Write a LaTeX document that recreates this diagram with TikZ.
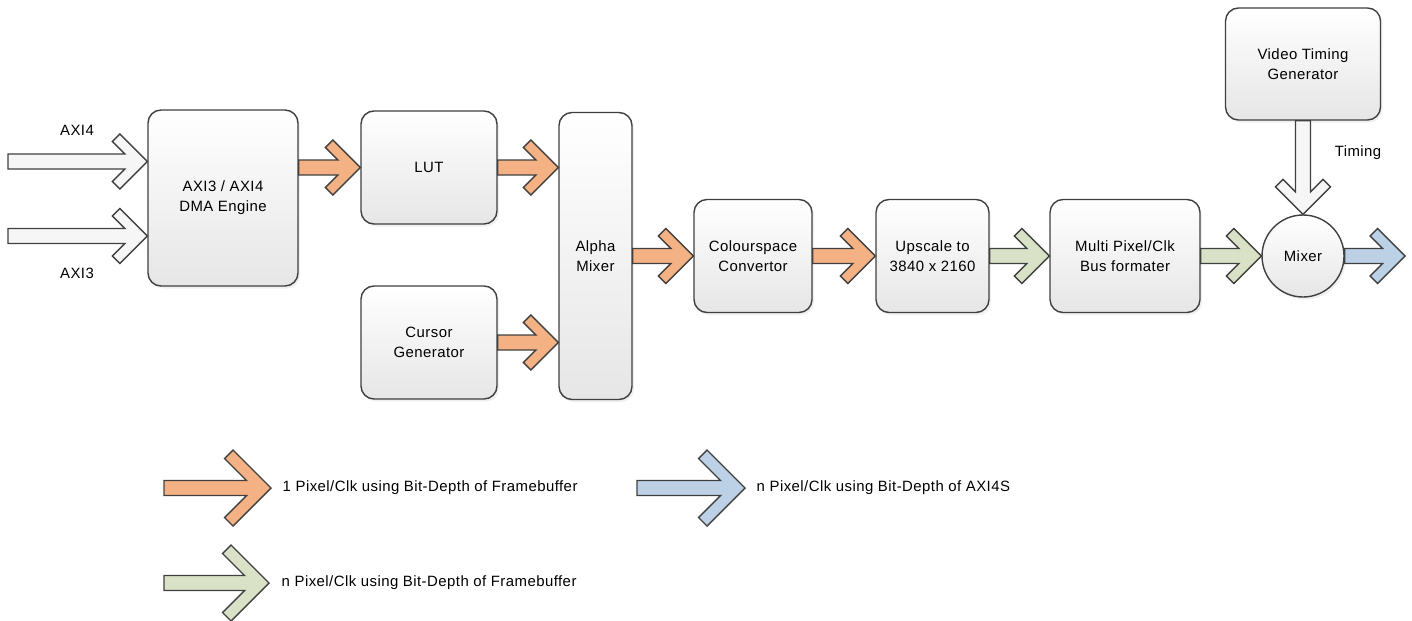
\documentclass[tikz,border=0pt]{standalone}
\usepackage{fontspec}
\setmainfont[LetterSpace=3]{Liberation Sans}
\usetikzlibrary{calc,shadows}
\definecolor{edgegray}{HTML}{404040}
\definecolor{boxgray}{HTML}{E6E6E6}
\definecolor{arrowor}{HTML}{F4B183}
\definecolor{arrowgr}{HTML}{D9E2C6}
\definecolor{arrowbl}{HTML}{BCD0E6}
\definecolor{axiwhite}{HTML}{F6F6F6}
\begin{document}
\begin{tikzpicture}[line width=0.8pt,
        lab/.style={font=\fontsize{8.5}{11.4}\selectfont, align=center, inner sep=0pt},
        block/.style={lab, draw=edgegray, rounded corners=0.26cm, top color=white, bottom color=boxgray,
            drop shadow={shadow xshift=0.04cm, shadow yshift=-0.05cm, opacity=0.12}},
        fat head/.store in=\fathead, fat arm/.store in=\fatarm, fat shaft/.store in=\fatshaft,
        fat head=0.55cm, fat arm=0.15cm, fat shaft=0.15cm,
        big/.style={fat head=0.76cm, fat arm=0.17cm},
        fat/.style={draw=edgegray, fill=#1, line join=miter,
            to path={let \p1=(\tikztostart), \p2=(\tikztotarget), \n1={atan2(\y2-\y1,\x2-\x1)} in
                (\p2) -- ++(\n1+135:{1.4142*\fathead}) -- ++(\n1+225:{1.4142*\fatarm})
                -- ++(\n1-45:{1.4142*(\fathead-\fatarm-\fatshaft)})
                -- ($(\p1)+(\n1+90:\fatshaft)$) -- ($(\p1)+(\n1-90:\fatshaft)$)
                -- ($(\p2)+(\n1+180:{2*\fatarm+\fatshaft})+(\n1-90:\fatshaft)$)
                -- ++(\n1+225:{1.4142*(\fathead-\fatarm-\fatshaft)})
                -- ++(\n1-45:{1.4142*\fatarm}) -- cycle}}]
        \useasboundingbox (0,0) rectangle (28.24,12.4);
        \node[block, minimum width=3cm, minimum height=3.52cm] (dma) at (4.46,8.44) {AXI3 / AXI4\\DMA Engine};
        \node[block, minimum width=2.72cm, minimum height=2.26cm] (lut) at (8.58,9.05) {LUT};
        \node[block, minimum width=2.72cm, minimum height=2.26cm] (cursor) at (8.58,5.55) {Cursor\\Generator};
        \node[block, minimum width=1.46cm, minimum height=5.74cm] (alpha) at (11.91,7.28) {Alpha\\Mixer};
        \node[block, minimum width=2.36cm, minimum height=2.26cm] (csc) at (15.06,7.28) {Colourspace\\Convertor};
        \node[block, minimum width=2.26cm, minimum height=2.26cm] (up) at (18.65,7.28) {Upscale to\\3840 x 2160};
        \node[block, minimum width=3cm, minimum height=2.26cm] (multi) at (22.5,7.28) {Multi Pixel/Clk\\Bus formater};
        \node[block, minimum width=3.1cm, minimum height=2.24cm] (vtg) at (26.06,11.12) {Video Timing\\Generator};
        \node[block, circle, minimum size=1.64cm] (mixer) at (26.06,7.28) {Mixer};
        \coordinate (axi4) at (0.16,9.17);
        \coordinate (axi3) at (0.16,7.68);
        \coordinate (out) at (28.1,7.28);
        \node[lab] (axi4lab) at (1.54,9.8) {AXI4};
        \node[lab] (axi3lab) at (1.54,6.94) {AXI3};
        \node[lab] (timing) at (27.16,9.34) {Timing};
        \draw[fat=axiwhite] (axi4) to (axi4 -| dma.west);
        \draw[fat=axiwhite] (axi3) to (axi3 -| dma.west);
        \draw[fat=arrowor] (dma.east |- lut.west) to (lut.west);
        \draw[fat=arrowor] (lut.east) to (lut.east -| alpha.west);
        \draw[fat=arrowor] (cursor.east) to (cursor.east -| alpha.west);
        \draw[fat=arrowor] (alpha.east) to (csc.west);
        \draw[fat=arrowor] (csc.east) to (up.west);
        \draw[fat=arrowgr] (up.east) to (multi.west);
        \draw[fat=arrowgr] (multi.east) to (mixer.west);
        \draw[fat=arrowbl] (mixer.east) to (out);
        \draw[fat=axiwhite] (vtg.south) to (mixer.north);
        \coordinate (leg1a) at (3.28,2.64);
        \coordinate (leg1b) at (5.42,2.64);
        \coordinate (leg2a) at (12.74,2.64);
        \coordinate (leg2b) at (14.9,2.64);
        \coordinate (leg3a) at (3.28,0.74);
        \coordinate (leg3b) at (5.38,0.74);
        \draw[fat=arrowor, big] (leg1a) to (leg1b);
        \draw[fat=arrowbl, big] (leg2a) to (leg2b);
        \draw[fat=arrowgr, big] (leg3a) to (leg3b);
        \node[lab, anchor=west] (leg1) at (5.64,2.64) {1 Pixel/Clk using Bit-Depth of Framebuffer};
        \node[lab, anchor=west] (leg2) at (15.12,2.64) {n Pixel/Clk using Bit-Depth of AXI4S};
        \node[lab, anchor=west] (leg3) at (5.62,0.74) {n Pixel/Clk using Bit-Depth of Framebuffer};
    \end{tikzpicture}
\end{document}
